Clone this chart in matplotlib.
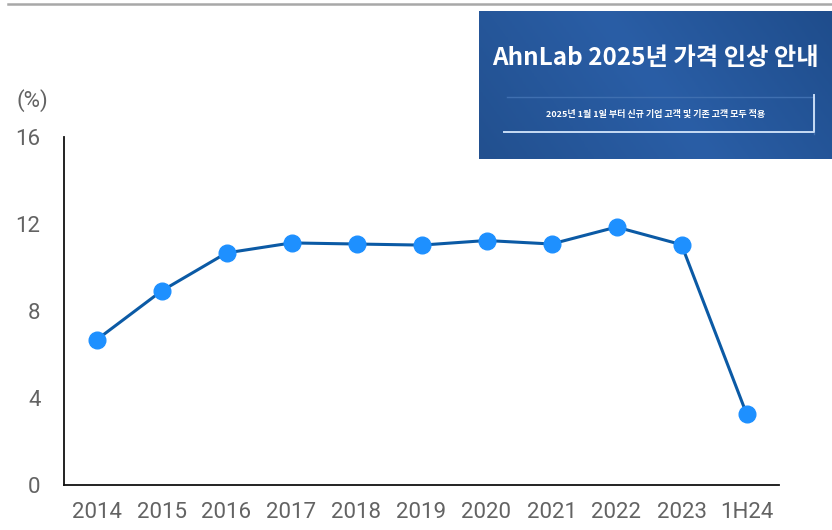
import numpy as np
import matplotlib.pyplot as plt
from matplotlib.colors import LinearSegmentedColormap

years = ['2014', '2015', '2016', '2017', '2018', '2019', '2020', '2021', '2022', '2023', '1H24']
values = [6.67, 8.92, 10.67, 11.13, 11.08, 11.03, 11.24, 11.08, 11.86, 11.05, 3.28]
yticks = [0, 4, 8, 12, 16]

banner_title = 'AhnLab 2025년 가격 인상 안내'
banner_sub = '2025년 1월 1일 부터 신규 기업 고객 및 기존 고객 모두 적용'

plt.rcParams['font.family'] = ['Roboto', 'Noto Sans CJK KR', 'DejaVu Sans']

fig = plt.figure(figsize=(8.32, 5.30), dpi=100)

# thin grey rule at the very top
fig.add_artist(plt.Line2D([8 / 832, 1.0], [1 - 3.5 / 530] * 2, color='#a8a8a8', lw=1.8))

ax = fig.add_axes([64 / 832, 45 / 530, 715 / 832, 348 / 530])
x = np.arange(len(years))
ax.plot(x, values, color='#0b5aa5', lw=2.2, marker='o', markersize=12,
        markerfacecolor='#1e90ff', markeredgecolor='#1e90ff', zorder=3)
ax.set_xlim(-0.5, len(years) - 0.5)
ax.set_ylim(0, 16)
ax.set_xticks(x)
ax.set_xticklabels(years)
ax.set_yticks(yticks)
ax.tick_params(length=0, labelsize=16, labelcolor='#636363')
ax.tick_params(axis='y', pad=17)
ax.tick_params(axis='x', pad=12)
for side in ['top', 'right']:
    ax.spines[side].set_visible(False)
for side in ['left', 'bottom']:
    ax.spines[side].set_linewidth(1.3)
    ax.spines[side].set_color('#111111')
fig.text(32 / 832, 1 - 101 / 530, '(%)', ha='center', va='center', fontsize=16, color='#636363')

# banner image in the corner
bax = fig.add_axes([479 / 832, 1 - 159 / 530, 353 / 832, 148 / 530])
cmap = LinearSegmentedColormap.from_list('banner', ['#22508f', '#2a5ea6', '#1f4d8c'])
grad = np.linspace(0, 1, 256).reshape(1, -1)
grad = grad + np.linspace(0, 0.3, 40).reshape(-1, 1)
bax.imshow(grad, aspect='auto', cmap=cmap, extent=[0, 1, 0, 1], origin='lower')
bax.set_xlim(0, 1)
bax.set_ylim(0, 1)
bax.axis('off')
bax.text(0.5, 0.68, banner_title, ha='center', va='center', color='white',
         fontsize=17.5, fontweight='bold', family=['Noto Sans CJK KR', 'DejaVu Sans'])
bax.plot([0.08, 0.95, 0.95], [0.42, 0.42, 0.17], color='#3f6fb0', lw=1)
bax.plot([0.07, 0.95, 0.95], [0.18, 0.18, 0.43], color='#c8dcf5', lw=1.4)
bax.text(0.5, 0.30, banner_sub, ha='center', va='center', color='white',
         fontsize=6.5, fontweight='bold', family=['Noto Sans CJK KR', 'DejaVu Sans'])

fig.savefig('out.png', dpi=100)
